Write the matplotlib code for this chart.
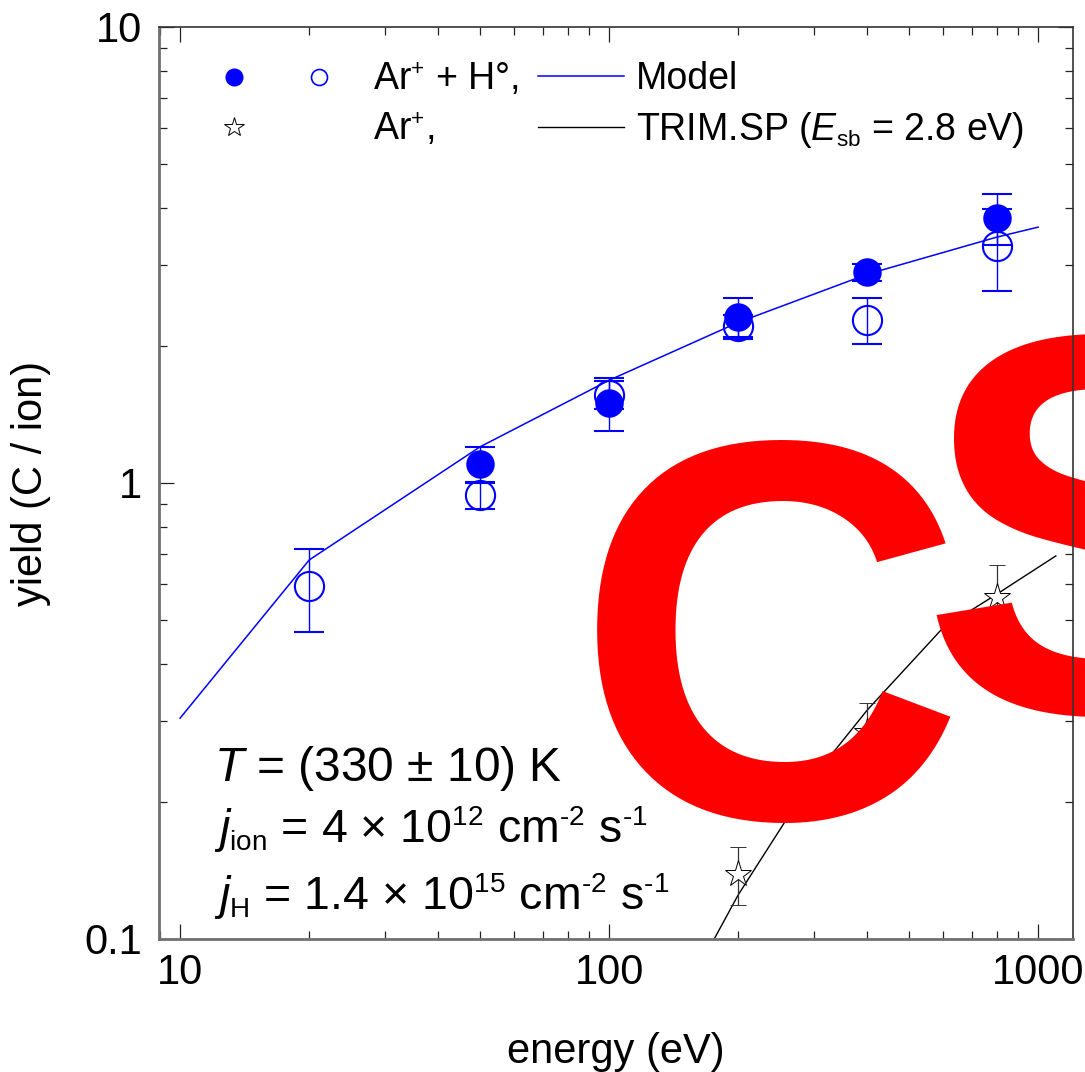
import matplotlib
matplotlib.use('Agg')
import matplotlib.pyplot as plt
import matplotlib._mathtext as mathtext_internal
from matplotlib.lines import Line2D
from matplotlib.legend_handler import HandlerTuple
from matplotlib.ticker import LogLocator, FuncFormatter, NullFormatter

plt.rcParams['font.family'] = ['Liberation Sans', 'DejaVu Sans']
plt.rcParams['mathtext.fontset'] = 'custom'
plt.rcParams['mathtext.rm'] = 'Liberation Sans'
plt.rcParams['mathtext.it'] = 'Liberation Sans:italic'
plt.rcParams['mathtext.bf'] = 'Liberation Sans:bold'
# smaller super/subscripts, closer to the original figure
mathtext_internal.SHRINK_FACTOR = 0.6

# Ar+ + H (open symbols)
energy_open = [20, 50, 100, 200, 400, 800]
yield_open = [0.595, 0.94, 1.56, 2.21, 2.28, 3.31]
err_open = [0.123, 0.065, 0.11, 0.12, 0.26, 0.67]

# Ar+ + H (filled symbols)
energy_filled = [50, 100, 200, 400, 800]
yield_filled = [1.10, 1.50, 2.31, 2.90, 3.81]
err_filled = [0.10, 0.20, 0.24, 0.12, 0.49]

# Ar+ only
energy_star = [200, 400, 800]
yield_star = [0.139, 0.285, 0.562]
err_star = [0.02, 0.045, 0.10]

# model curve
model_energy = [10, 20, 50, 100, 200, 400, 800, 1000]
model_yield = [0.305, 0.678, 1.20, 1.68, 2.25, 2.87, 3.46, 3.64]

# TRIM.SP curve
trim_energy = [150, 200, 300, 400, 600, 800, 1100]
trim_yield = [0.076, 0.125, 0.227, 0.318, 0.481, 0.570, 0.692]

fig = plt.figure(figsize=(10.85, 10.72), dpi=100)
ax = fig.add_axes([159/1085, 1-939/1072, 914/1085, 912/1072])
ax.set_xscale('log')
ax.set_yscale('log')

ax.plot(model_energy, model_yield, color='blue', lw=1.1, zorder=2)
ax.plot(trim_energy, trim_yield, color='black', lw=1.0, zorder=2)

ax.errorbar(energy_open, yield_open, yerr=err_open, fmt='o', ms=21, mfc='none',
            mec='blue', mew=1.5, ecolor='blue', elinewidth=1.0, capsize=10.5,
            capthick=1.5, zorder=3)
ax.errorbar(energy_filled, yield_filled, yerr=err_filled, fmt='o', ms=19.5, mfc='blue',
            mec='blue', ecolor='blue', elinewidth=1.0, capsize=10.5,
            capthick=1.5, zorder=3)
ax.errorbar(energy_star, yield_star, yerr=err_star, fmt='*', ms=20, mfc='white',
            mec='black', mew=0.7, ecolor='#333333', elinewidth=0.9, capsize=5.5,
            capthick=1.0, zorder=3)

ax.set_xlim(8.93, 1206)
ax.set_ylim(0.1, 10)

fmt = FuncFormatter(lambda v, p: f'{v:g}')
for axis in (ax.xaxis, ax.yaxis):
    axis.set_major_locator(LogLocator(base=10, numticks=10))
    axis.set_minor_locator(LogLocator(base=10, subs=range(2, 10), numticks=20))
    axis.set_major_formatter(fmt)
    axis.set_minor_formatter(NullFormatter())

ax.tick_params(which='both', direction='in', top=True, right=True, color='#222222')
ax.tick_params(which='major', length=10.8, width=0.9, labelsize=30)
ax.tick_params(which='minor', length=5.8, width=0.9)
ax.tick_params(axis='x', which='major', pad=10)
ax.tick_params(axis='y', which='major', pad=12)

for side in ('left', 'bottom'):
    ax.spines[side].set_color('#707070')
    ax.spines[side].set_linewidth(2.0)
for side in ('top', 'right'):
    ax.spines[side].set_color('#333333')
    ax.spines[side].set_linewidth(1.2)
for sp in ax.spines.values():
    sp.set_zorder(5)

ax.set_xlabel('energy (eV)', fontsize=30)
ax.set_ylabel('yield (C / ion)', fontsize=30)
ax.xaxis.set_label_coords(0.5, -0.1015)
ax.yaxis.set_label_coords(-0.118, 0.5)

# legend, first column: symbols
h_filled = Line2D([], [], ls='none', marker='o', ms=12, mfc='blue', mec='blue')
h_open = Line2D([], [], ls='none', marker='o', ms=11.5, mfc='none', mec='blue', mew=1.2)
h_star = Line2D([], [], ls='none', marker='*', ms=15, mfc='white', mec='black', mew=0.7)
h_blank = Line2D([], [], ls='none')
leg1 = ax.legend([(h_filled, h_open), (h_star, h_blank)],
                 [r'Ar$^{+}$ + H°,', r'Ar$^{+}$,'],
                 handler_map={tuple: HandlerTuple(ndivide=None, pad=1.733)},
                 handlelength=2.8, handletextpad=1.17, fontsize=27, frameon=False,
                 loc='upper left', bbox_to_anchor=(0.0711, 0.9625),
                 borderpad=0, borderaxespad=0, labelspacing=0.35)
ax.add_artist(leg1)

# legend, second column: curves
h_model = Line2D([], [], color='blue', lw=1.1)
h_trim = Line2D([], [], color='black', lw=1.0)
ax.legend([h_model, h_trim], ['Model', r'TRIM.SP ($E_{\rm sb}$ = 2.8 eV)'],
          handlelength=2.29, handletextpad=0.32, fontsize=27, frameon=False,
          loc='upper left', bbox_to_anchor=(0.4147, 0.9625),
          borderpad=0, borderaxespad=0, labelspacing=0.35)

# conditions
ax.text(0.060, 0.1732, r'$T$ = (330 ± 10) K', fontsize=34.5,
        transform=ax.transAxes, va='baseline')
ax.text(0.060, 0.1053, r'$j_{\rm ion}$ = 4 × 10$^{12}$ cm$^{‐2}$ s$^{‐1}$', fontsize=33.5,
        transform=ax.transAxes, va='baseline')
ax.text(0.060, 0.0318, r'$j_{\rm H}$ = 1.4 × 10$^{15}$ cm$^{‐2}$ s$^{‐1}$', fontsize=33.5,
        transform=ax.transAxes, va='baseline')

# red overlay lettering
ax.text(0.530, 0.237, 'C', fontsize=389, fontweight='bold', color='#ff0000',
        transform=fig.transFigure, ha='left', va='baseline', clip_on=False, zorder=4)
ax.text(0.848, 0.336, 'S', fontsize=389, fontweight='bold', color='#ff0000',
        transform=fig.transFigure, ha='left', va='baseline', clip_on=False, zorder=4)

fig.savefig('out.png', dpi=100)
